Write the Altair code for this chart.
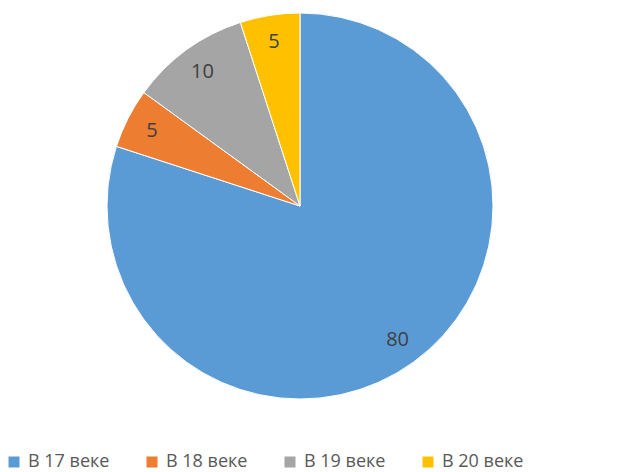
import altair as alt
import pandas as pd

categories = ["В 17 веке", "В 18 веке", "В 19 веке", "В 20 веке"]
values = [80, 5, 10, 5]
colors = ["#5B9BD5", "#ED7D31", "#A5A5A5", "#FFC000"]

df = pd.DataFrame({"cat": categories, "val": values, "ord": list(range(len(categories)))})

base = alt.Chart(df).encode(
    theta=alt.Theta("val:Q", stack=True),
    order=alt.Order("ord:Q"),
)

arcs = base.mark_arc(outerRadius=193, stroke="white", strokeWidth=1).encode(
    x=alt.value(292),
    y=alt.value(198),
    color=alt.Color(
        "cat:N",
        scale=alt.Scale(domain=categories, range=colors),
        sort=categories,
        legend=alt.Legend(
            title=None,
            orient="none",
            direction="horizontal",
            legendX=-3,
            legendY=445,
            symbolType="square",
            symbolSize=121,
            symbolStrokeWidth=0,
            labelFont="Open Sans",
            labelFontSize=18,
            labelColor="#595959",
            labelOffset=5,
            columnPadding=33,
        ),
    ),
)

labels = base.mark_text(radius=166, font="Open Sans", fontSize=20, color="#404040").encode(
    x=alt.value(292),
    y=alt.value(198),
    text=alt.Text("val:Q"),
)

chart = (
    alt.layer(arcs, labels)
    .properties(width=601, height=470, autosize=alt.AutoSizeParams(type="none"), padding=0)
    .configure_view(stroke=None)
)

chart.save("out.html", embed_options={"renderer": "svg", "actions": False})
